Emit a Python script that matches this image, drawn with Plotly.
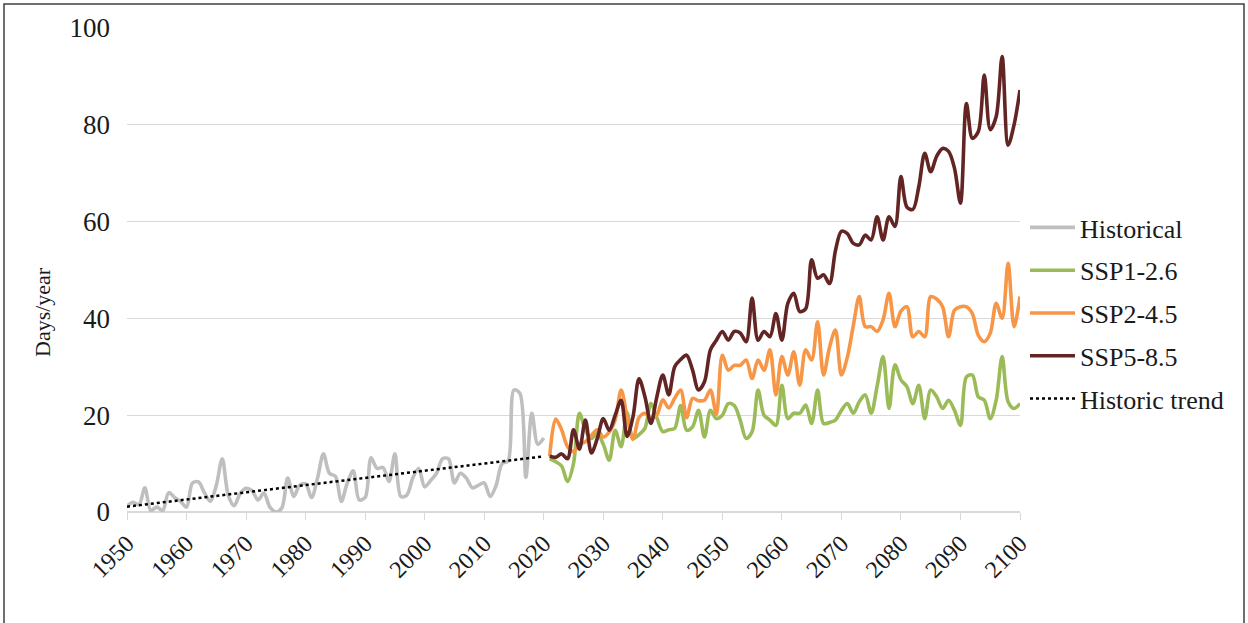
import plotly.graph_objects as go

hist_years = list(range(1950, 2021))
historical = [1.2, 2.0, 1.5, 5.0, 0.3, 1.0, 0.3, 4.0, 3.0, 2.2,
              1.0, 6.0, 6.2, 4.0, 2.2, 5.5, 11.0, 3.5, 1.3, 3.8,
              4.9, 4.4, 2.5, 3.9, 1.0, 0.0, 0.8, 7.0, 3.2, 5.5,
              5.8, 3.0, 7.0, 12.0, 8.0, 7.4, 2.2, 6.0, 8.5, 2.5,
              3.0, 11.2, 9.0, 9.2, 6.3, 12.0, 3.2, 3.5, 7.0, 9.0,
              5.2, 6.5, 8.0, 11.0, 11.0, 6.0, 8.0, 7.0, 5.0, 5.5,
              6.0, 3.2, 5.5, 10.0, 10.5, 25.2, 24.5, 7.2, 20.4, 14.0,
              15.3]

proj_years = list(range(2021, 2101))
ssp126 = [11.0, 10.4, 9.5, 6.3, 10.0, 20.4, 16.9, 15.2, 16.2, 14.0,
          10.7, 16.9, 13.5, 20.5, 15.2, 16.0, 17.3, 22.4, 19.5, 16.6,
          17.0, 17.3, 22.0, 16.9, 17.6, 21.0, 15.5, 21.0, 19.3, 20.0,
          22.4, 22.0, 19.0, 15.2, 16.6, 25.2, 20.0, 19.0, 17.9, 26.2,
          19.3, 20.4, 20.4, 22.1, 18.3, 25.2, 18.3, 18.5, 19.0, 21.0,
          22.4, 20.4, 22.8, 24.2, 20.4, 26.0, 32.1, 21.4, 30.4, 27.3,
          25.9, 22.4, 26.2, 19.3, 25.2, 23.8, 21.4, 23.1, 21.0, 17.9,
          27.9, 28.3, 23.8, 23.1, 19.3, 23.1, 32.1, 22.8, 21.4, 22.4]
ssp245 = [11.5, 19.2, 17.0, 13.5, 12.5, 14.0, 14.5, 15.8, 17.0, 15.5,
          16.5, 19.0, 25.2, 19.7, 15.0, 19.5, 20.4, 19.3, 20.0, 23.2,
          21.5, 23.5, 25.2, 19.5, 23.5, 23.0, 23.1, 25.2, 20.2, 32.4,
          29.3, 30.3, 30.3, 31.4, 27.6, 31.4, 29.3, 33.5, 24.2, 32.1,
          28.3, 33.1, 26.2, 33.5, 31.4, 39.3, 28.3, 34.0, 37.6, 28.3,
          32.0, 38.5, 44.5, 38.3, 38.3, 37.3, 39.7, 45.2, 38.3, 41.5,
          42.4, 36.2, 37.3, 36.2, 44.5, 44.0, 42.4, 36.2, 41.7, 42.4,
          42.4, 41.0, 36.5, 35.2, 36.9, 43.1, 40.0, 51.4, 38.3, 44.5]
ssp585 = [11.5, 11.3, 12.0, 11.0, 17.0, 13.0, 19.0, 12.2, 15.2, 19.3,
          16.9, 20.0, 23.1, 15.6, 19.7, 27.5, 23.8, 18.3, 23.8, 28.3,
          24.2, 30.0, 31.5, 32.4, 29.3, 25.2, 26.9, 33.5, 35.5, 37.3,
          35.5, 37.3, 37.0, 35.2, 44.2, 35.5, 37.3, 36.2, 41.0, 35.5,
          43.1, 45.2, 41.4, 42.0, 52.1, 48.3, 49.0, 47.2, 54.0, 58.0,
          57.5, 55.5, 55.2, 57.2, 56.2, 61.0, 56.2, 61.0, 59.0, 69.3,
          63.0, 62.5, 67.2, 74.1, 70.3, 73.5, 75.1, 74.5, 71.0, 63.8,
          84.4, 77.2, 78.6, 90.3, 79.0, 81.7, 94.1, 75.8, 80.0, 87.2]

trend_years = [1950, 2020]
trend_values = [1.1, 11.5]

x_ticks = list(range(1950, 2101, 10))

FONT = "Liberation Serif"
TXT = "#1a1a1a"

fig = go.Figure()
series = [
    ("Historical", hist_years, historical, "#BFBFBF"),
    ("SSP1-2.6", proj_years, ssp126, "#9BBB59"),
    ("SSP2-4.5", proj_years, ssp245, "#F79646"),
    ("SSP5-8.5", proj_years, ssp585, "#632523"),
]
for name, xs, ys, col in series:
    fig.add_trace(go.Scatter(x=xs, y=ys, mode="lines", name=name,
                             legendgroup=name,
                             line=dict(color=col, width=3.6, shape="spline", smoothing=0.9)))
fig.add_trace(go.Scatter(x=trend_years, y=trend_values, mode="lines", name="Historic trend",
                         legendgroup="trend",
                         line=dict(color="black", width=2.5, dash="dot")))

fig.update_layout(
    width=1248, height=623,
    margin=dict(l=127, r=228, t=28, b=111),
    paper_bgcolor="white", plot_bgcolor="white",
    font=dict(family=FONT, size=24, color=TXT),
    showlegend=True,
    legend=dict(x=1.0056, y=(512 - 204) / 484, xanchor="left", yanchor="top",
                font=dict(family=FONT, size=26, color=TXT),
                traceorder="grouped", tracegroupgap=6, itemwidth=45,
                bgcolor="rgba(0,0,0,0)"),
    xaxis=dict(range=[1950, 2100], tickvals=x_ticks, tickangle=-45, automargin=False,
               showgrid=False, zeroline=False, showline=False,
               ticks="outside", ticklen=7, tickcolor="#D9D9D9", tickwidth=1,
               tickfont=dict(family=FONT, size=24, color=TXT)),
    yaxis=dict(range=[0, 100], dtick=20, showgrid=True, gridcolor="#D9D9D9", gridwidth=1,
               automargin=False,
               zeroline=True, zerolinecolor="#D9D9D9", zerolinewidth=1.5, showline=False,
               ticks="", ticklabelstandoff=16,
               tickfont=dict(family=FONT, size=27, color=TXT)),
)

fig.add_annotation(text="Days/year", textangle=-90, showarrow=False,
                   xref="paper", yref="paper",
                   x=(42 - 127) / 893, y=(512 - 312) / 484,
                   xanchor="center", yanchor="middle",
                   font=dict(family=FONT, size=22, color=TXT))

fig.add_shape(type="rect", xref="paper", yref="paper",
              x0=(4 - 127) / 893, x1=(1244 - 127) / 893,
              y0=(512 - 660) / 484, y1=(512 - 4) / 484,
              line=dict(color="#404040", width=1.5), fillcolor="rgba(0,0,0,0)", layer="below")

fig.write_html("out.html", config={"displayModeBar": False},
               post_script="document.body.style.margin='0';document.body.style.overflow='hidden';")
